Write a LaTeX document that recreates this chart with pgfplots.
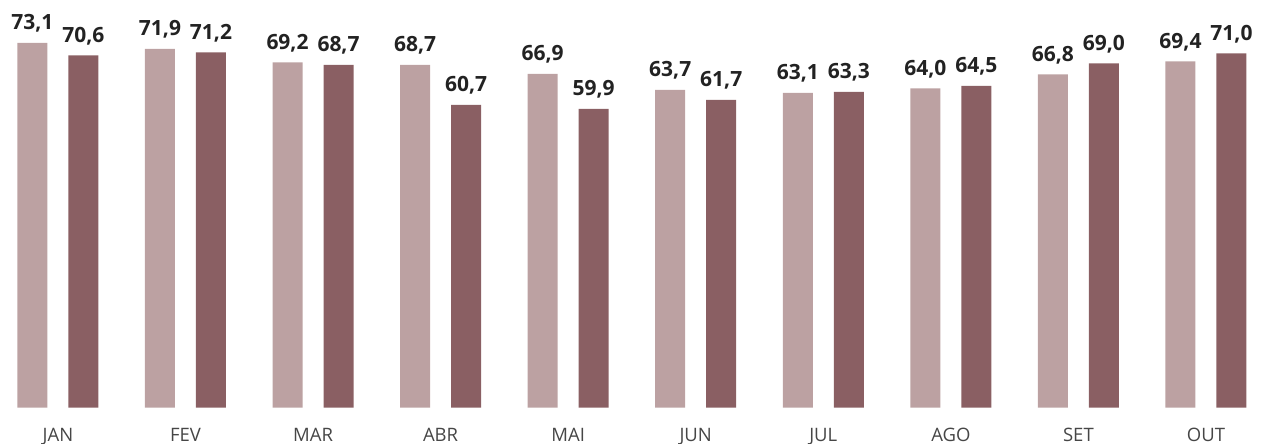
\documentclass[border=0pt]{standalone}
\usepackage{fontspec}
\setmainfont{Open Sans}
\usepackage{pgfplots}
\pgfplotsset{compat=1.18}
\definecolor{c_light}{RGB}{188,161,162}
\definecolor{c_dark}{RGB}{138,95,99}
\definecolor{c_label}{RGB}{34,34,34}
\definecolor{c_month}{RGB}{70,70,70}

\begin{document}
\begin{tikzpicture}
\useasboundingbox (0,0) rectangle (1263pt,444pt);
\begin{axis}[
    at={(0.5pt,36.3pt)},
    anchor=south west,
    scale only axis,
    width=1263pt,
    height=399.2pt,
    ybar,
    bar width=30pt,
    xmin=-0.45, xmax=9.45,
    ymin=0, ymax=80,
    ytick=\empty,
    xtick=data,
    xticklabels={JAN,FEV,MAR,ABR,MAI,JUN,JUL,AGO,SET,OUT},
    xticklabel style={font=\fontsize{18.5}{20}\selectfont, text=c_month,
        anchor=base, inner sep=0pt, yshift=-34pt},
    major tick length=0pt,
    axis line style={draw=none},
    clip=false,
    /pgf/number format/.cd, use comma, fixed, fixed zerofill, precision=1,
        assume math mode=true,
    /pgfplots/.cd,
    nodes near coords,
    every node near coord/.append style={font=\bfseries\fontsize{21}{23}\selectfont,
        text=c_label, anchor=base, inner sep=0pt, yshift=13pt},
]
% 2023 (light)
\addplot[bar shift=-25.5pt, fill=c_light, draw=none] coordinates {
    (0,73.1) (1,71.9) (2,69.2) (3,68.7) (4,66.9)
    (5,63.7) (6,63.1) (7,64.0) (8,66.8) (9,69.4)
};
% 2024 (dark)
\addplot[bar shift=25.5pt, fill=c_dark, draw=none] coordinates {
    (0,70.6) (1,71.2) (2,68.7) (3,60.7) (4,59.9)
    (5,61.7) (6,63.3) (7,64.5) (8,69.0) (9,71.0)
};
\end{axis}
\end{tikzpicture}
\end{document}
